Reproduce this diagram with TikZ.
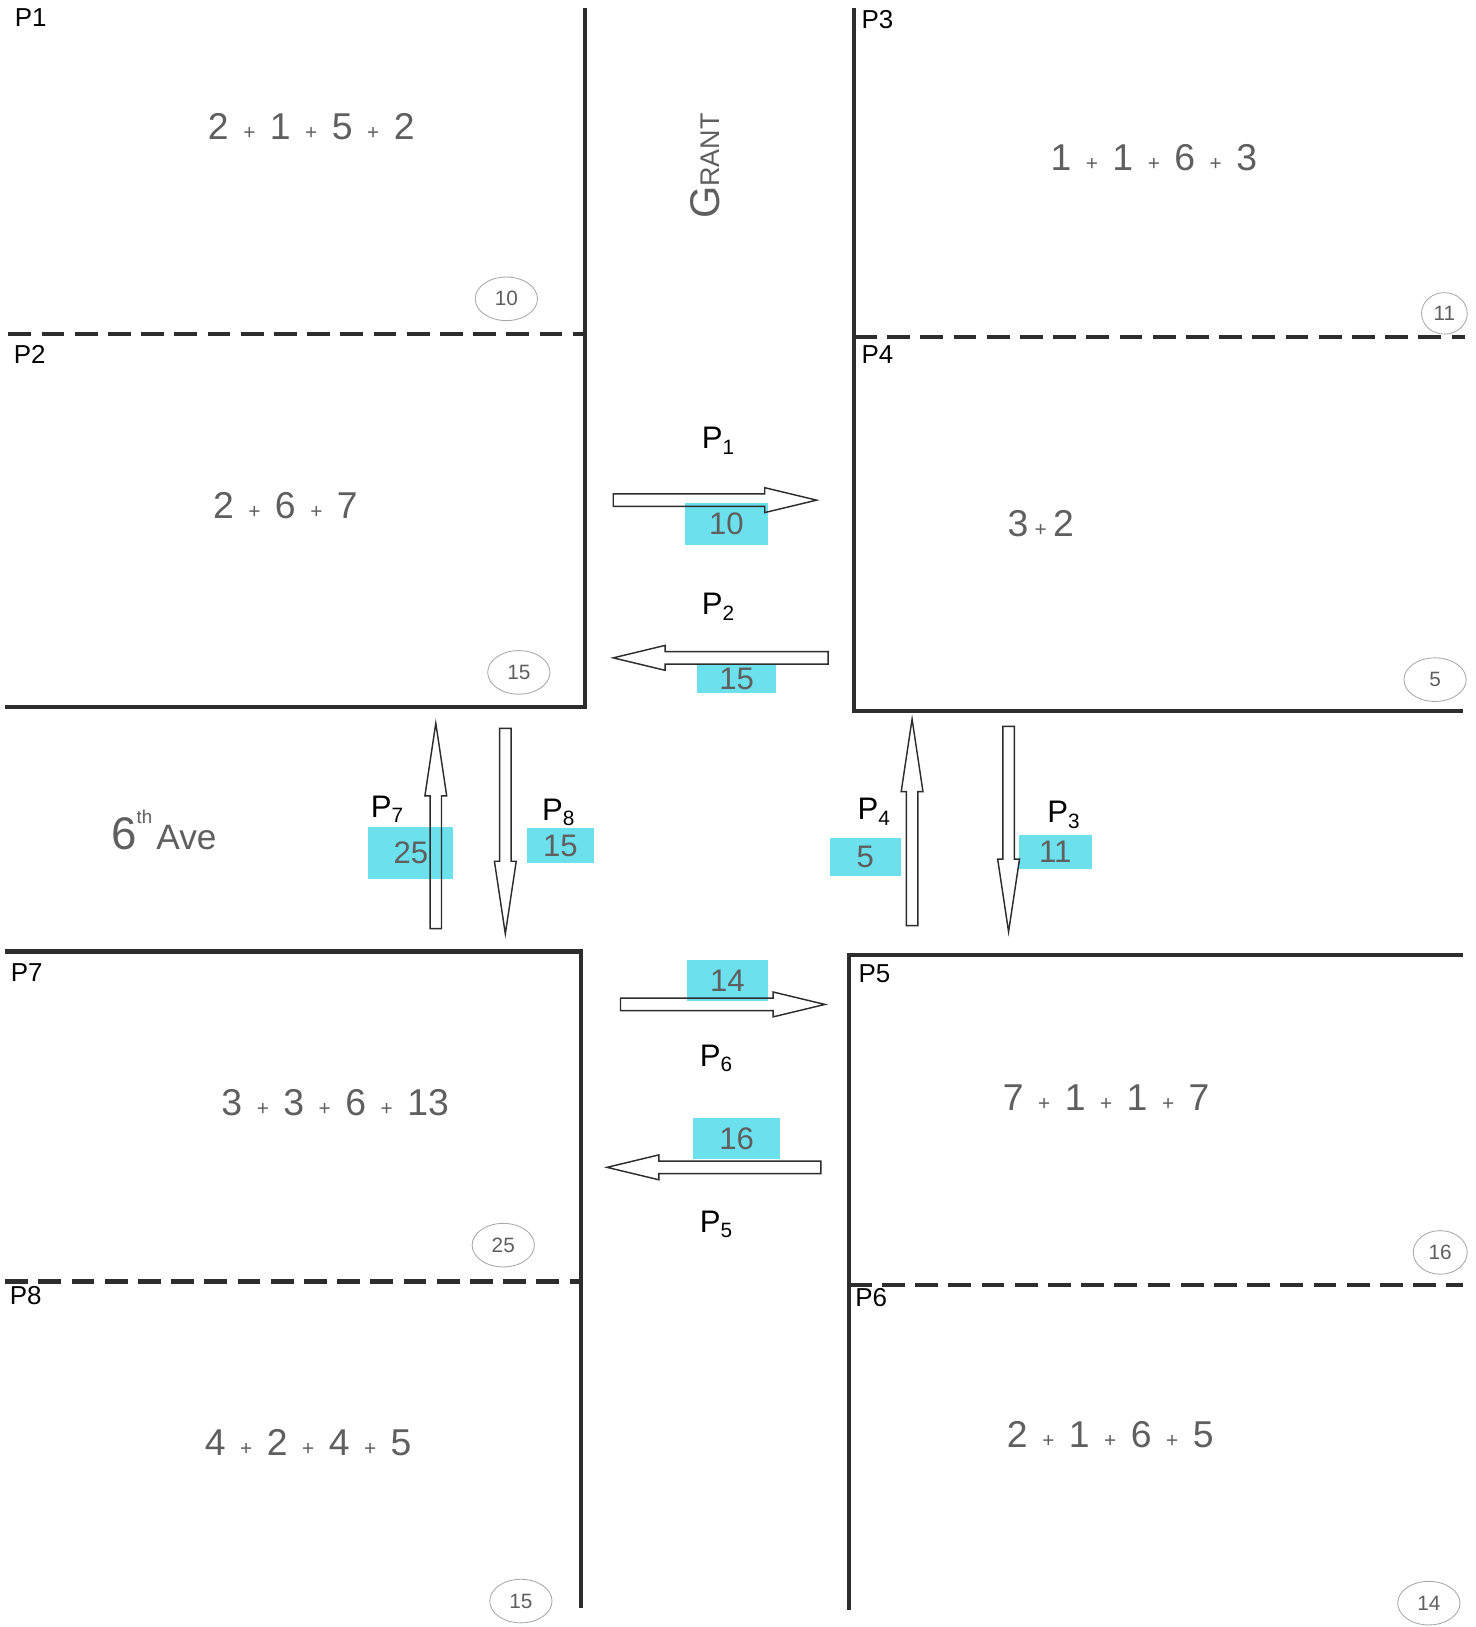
\documentclass[tikz,border=0pt]{standalone}
\usepackage{fontspec}
\setmainfont{Liberation Sans}
\usetikzlibrary{shapes.geometric}
\definecolor{wall}{RGB}{45,45,45}
\definecolor{pencil}{RGB}{95,95,95}
\definecolor{hl}{RGB}{108,224,236}
\tikzset{
 wallline/.style={line width=2pt, draw=wall},
 lotline/.style={line width=2pt, draw=wall, dash pattern=on 11pt off 5pt},
 corner/.style={anchor=north west, inner sep=0pt, font=\fontsize{12.5}{12.5}\selectfont},
 calcnote/.style={text=pencil, font=\fontsize{18}{18}\selectfont},
 total/.style={ellipse, draw=pencil!55, line width=0.4pt, minimum width=30pt, minimum height=21pt, inner sep=0pt, text=pencil, font=\fontsize{10}{10}\selectfont},
 arrowline/.style={draw=wall, line width=0.7pt, line join=miter},
 flowlabel/.style={font=\fontsize{15}{15}\selectfont},
 marker/.style={fill=hl, inner sep=0pt, text=pencil, font=\fontsize{15}{15}\selectfont},
}
\newcommand{\pl}{\hspace{7pt}{\fontsize{10}{10}\selectfont +}\hspace{7pt}}
\newcommand{\psub}[1]{P\raisebox{-0.35ex}{\fontsize{10}{10}\selectfont #1}}
\newcommand{\harrow}[3]{\pgfmathsetmacro\hb{#2-sign(#2-#1)*50}%
 \draw[arrowline] (#1,#3-6) -- (\hb,#3-6) -- (\hb,#3-12) -- (#2,#3) -- (\hb,#3+12) -- (\hb,#3+6) -- (#1,#3+6) -- cycle;}
\newcommand{\varrow}[3]{\pgfmathsetmacro\vb{#3-sign(#3-#2)*70}%
 \draw[arrowline] (#1-5.5,#2) -- (#1-5.5,\vb) -- (#1-10.5,\vb) -- (#1,#3) -- (#1+10.5,\vb) -- (#1+5.5,\vb) -- (#1+5.5,#2) -- cycle;}
\begin{document}
\begin{tikzpicture}[x=0.5pt,y=-0.5pt]
\useasboundingbox[fill=white] (0,0) rectangle (1422,1568);
% walls
\draw[wallline] (5,681) -- (564,681) -- (564,8);
\draw[lotline] (8,322) -- (564,322);
\draw[wallline] (823,8) -- (823,685) -- (1410,685);
\draw[lotline] (823,325) -- (1412,325);
\draw[wallline] (5,917) -- (560,917) -- (560,1550);
\draw[lotline] (5,1235) -- (558,1235);
\draw[wallline] (1410,920) -- (818,920) -- (818,1552);
\draw[lotline] (818,1238) -- (1410,1238);
% corner labels
\node[corner] (c1) at (14,8) {P1};
\node[corner] (c2) at (13,332) {P2};
\node[corner] (c3) at (830,10) {P3};
\node[corner] (c4) at (830,333) {P4};
\node[corner] (c5) at (827,929) {P5};
\node[corner] (c6) at (824,1241) {P6};
\node[corner] (c7) at (10,928) {P7};
\node[corner] (c8) at (9,1239) {P8};
% handwritten sums
\node[calcnote] (s1) at (300,122) {2\pl 1\pl 5\pl 2};
\node[calcnote] (s2) at (275,487) {2\pl 6\pl 7};
\node[calcnote] (s3) at (1112,152) {1\pl 1\pl 6\pl 3};
\node[calcnote] (s4) at (1003,505) {3\,{\fontsize{10}{10}\selectfont +}\,2};
\node[calcnote] (s7) at (323,1063) {3\pl 3\pl 6\pl 13};
\node[calcnote] (s8) at (297,1390) {4\pl 2\pl 4\pl 5};
\node[calcnote] (s5) at (1066,1058) {7\pl 1\pl 1\pl 7};
\node[calcnote] (s6) at (1070,1383) {2\pl 1\pl 6\pl 5};
% circled totals
\node[total] (t1) at (488,288) {10};
\node[total] (t2) at (500,648) {15};
\node[total, minimum width=22pt, minimum height=20pt] (t3) at (1392,302) {11};
\node[total] (t4) at (1383,655) {5};
\node[total] (t7) at (485,1200) {25};
\node[total] (t8) at (502,1543) {15};
\node[total, minimum width=26pt] (t5) at (1388,1207) {16};
\node[total] (t6) at (1377,1545) {14};
% street names
\node[rotate=90, text=pencil] (grant) at (680,160) {\fontsize{20}{20}\selectfont G\fontsize{13}{13}\selectfont RANT};
\node[text=pencil] (ave) at (158,800) {\fontsize{22}{22}\selectfont 6\raisebox{1.1ex}{\fontsize{9}{9}\selectfont th}\hspace{2pt}\fontsize{17}{17}\selectfont Ave};
% highlights
\node[marker, minimum width=40pt, minimum height=20pt] (h1) at (700,505) {10};
\node[marker, minimum width=38pt, minimum height=14pt] (h2) at (710,654) {15};
\node[marker, minimum width=41pt, minimum height=25pt] (h7) at (396,822) {25};
\node[marker, minimum width=32pt, minimum height=17pt] (h8) at (540,815) {15};
\node[marker, minimum width=34pt, minimum height=18pt] (h4) at (834,826) {5};
\node[marker, minimum width=35pt, minimum height=16pt] (h3) at (1017,821) {11};
\node[marker, minimum width=39pt, minimum height=20pt] (h6) at (701,945) {14};
\node[marker, minimum width=42pt, minimum height=20pt] (h5) at (710,1097) {16};
% flow arrows
\harrow{591}{787}{482}
\harrow{798}{591}{634}
\harrow{598}{795}{968}
\harrow{791}{585}{1125}
\varrow{420}{895}{697}
\varrow{487}{702}{900}
\varrow{879}{892}{693}
\varrow{972}{700}{898}
% flow labels
\node[flowlabel] (f1) at (692,425) {\psub{1}};
\node[flowlabel] (f2) at (692,585) {\psub{2}};
\node[flowlabel] (f6) at (690,1020) {\psub{6}};
\node[flowlabel] (f5) at (690,1180) {\psub{5}};
\node[flowlabel] (f7) at (373,780) {\psub{7}};
\node[flowlabel] (f8) at (538,783) {\psub{8}};
\node[flowlabel] (f4) at (842,782) {\psub{4}};
\node[flowlabel] (f3) at (1025,785) {\psub{3}};
\end{tikzpicture}
\end{document}
